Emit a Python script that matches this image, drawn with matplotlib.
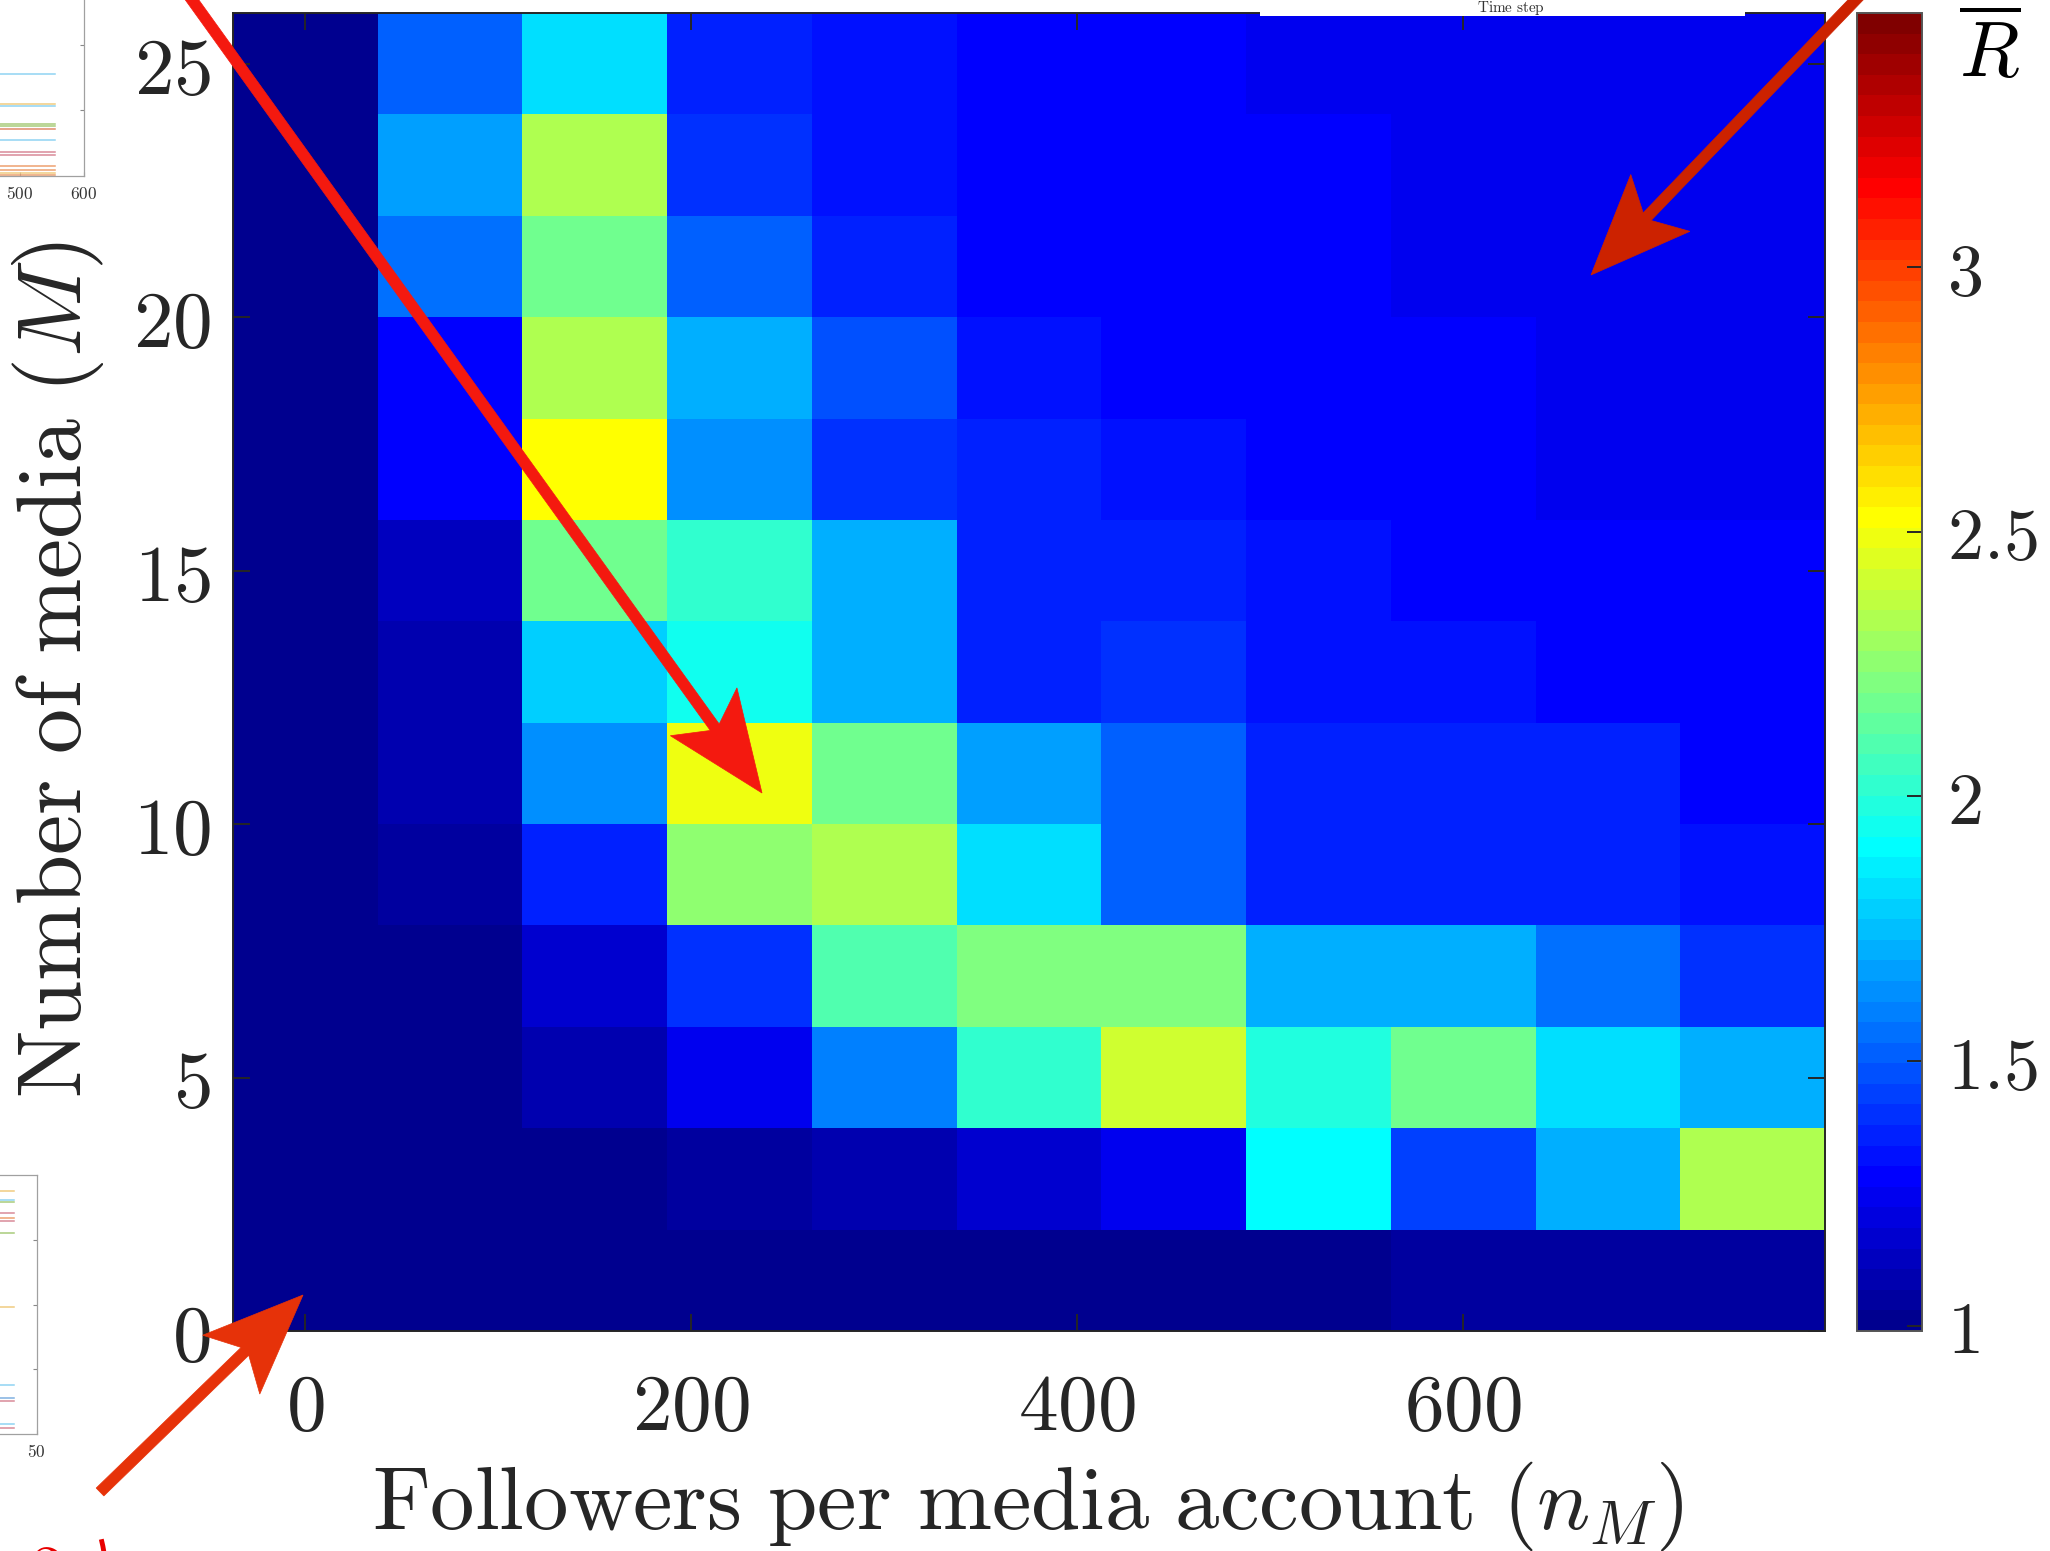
import numpy as np
import matplotlib
matplotlib.use("Agg")
import matplotlib.pyplot as plt
from matplotlib.colors import ListedColormap, Normalize
from matplotlib.patches import Polygon, Rectangle, Arc
from matplotlib.ticker import FuncFormatter, FixedLocator

plt.rcParams["mathtext.fontset"] = "cm"
plt.rcParams["font.family"] = ["DejaVu Serif"]

# ---------------------------------------------------------------- data
followers = [0, 75, 150, 225, 300, 375, 450, 525, 600, 675, 750]   # n_M
media = [1, 3, 5, 7, 9, 11, 13, 15, 17, 19, 21, 23, 25]             # M

# mean R for each number of media M, across followers per account
R_M01 = [1.01, 1.01, 1.01, 1.01, 1.01, 1.01, 1.01, 1.01, 1.05, 1.05, 1.05]
R_M03 = [1.01, 1.01, 1.01, 1.05, 1.09, 1.17, 1.24, 1.90, 1.44, 1.71, 2.33]
R_M05 = [1.01, 1.01, 1.09, 1.24, 1.59, 2.02, 2.41, 1.98, 2.18, 1.83, 1.71]
R_M07 = [1.01, 1.01, 1.17, 1.40, 2.10, 2.22, 2.22, 1.71, 1.71, 1.55, 1.40]
R_M09 = [1.01, 1.05, 1.36, 2.26, 2.33, 1.83, 1.52, 1.36, 1.36, 1.36, 1.32]
R_M11 = [1.01, 1.09, 1.63, 2.49, 2.18, 1.67, 1.52, 1.36, 1.36, 1.36, 1.28]
R_M13 = [1.01, 1.09, 1.79, 1.94, 1.71, 1.36, 1.40, 1.32, 1.32, 1.28, 1.28]
R_M15 = [1.01, 1.13, 2.18, 2.02, 1.71, 1.36, 1.36, 1.32, 1.28, 1.28, 1.28]
R_M17 = [1.01, 1.28, 2.53, 1.63, 1.40, 1.36, 1.32, 1.28, 1.28, 1.24, 1.24]
R_M19 = [1.01, 1.28, 2.33, 1.71, 1.48, 1.32, 1.28, 1.28, 1.28, 1.24, 1.24]
R_M21 = [1.01, 1.55, 2.18, 1.52, 1.36, 1.28, 1.28, 1.28, 1.24, 1.24, 1.24]
R_M23 = [1.01, 1.67, 2.33, 1.40, 1.32, 1.28, 1.28, 1.28, 1.24, 1.24, 1.24]
R_M25 = [1.01, 1.52, 1.83, 1.36, 1.32, 1.28, 1.28, 1.24, 1.24, 1.24, 1.24]

R_MIN, R_MAX = 0.99, 3.48
x_ticks = [0, 200, 400, 600]
y_ticks = [0, 5, 10, 15, 20, 25]
cbar_ticks = [1, 1.5, 2, 2.5, 3]

# neighbouring panels partly visible at the left edge
upper_panel_levels = [0.311, 0.220, 0.214, 0.159, 0.153, 0.144, 0.110,
                      0.073, 0.064, 0.031, 0.018, 0.009, 0.003]
upper_panel_colors = ["#8fd3f3", "#f0cc80", "#8fd3f3", "#a8cc7a", "#a8cc7a",
                      "#e08a6a", "#8fd3f3", "#d98a99", "#d98a99", "#eea070",
                      "#eea070", "#f0cc80", "#eea070"]
lower_panel_levels = [4.0, 3.75, 3.62, 3.58, 3.41, 3.34, 3.29, 3.11, 1.96,
                      0.75, 0.55, 0.51, 0.15, 0.09]
lower_panel_colors = ["#d98a99", "#f0cc80", "#8fd3f3", "#a8cc7a", "#d98a99",
                      "#eea070", "#d98a99", "#a8cc7a", "#f0cc80", "#8fd3f3",
                      "#80b0e0", "#d98a99", "#8fd3f3", "#d98a99"]


def matlab_jet(m=64):
    n = int(np.ceil(m / 4))
    u = np.r_[np.arange(1, n + 1) / n, np.ones(n - 1), np.arange(n, 0, -1) / n]
    g = int(np.ceil(n / 2)) - (1 if m % 4 == 1 else 0) + np.arange(1, len(u) + 1)
    r = g + n
    b = g - n
    cm = np.zeros((m, 3))
    for idx, ch in ((r, 0), (g, 1), (b, 2)):
        ok = (idx >= 1) & (idx <= m)
        cm[idx[ok] - 1, ch] = u[ok]
    return ListedColormap(cm)


W, H = 2050, 1551
INK = "#262626"


def fig_rect(x0, y0, x1, y1):
    """Pixel box (origin top-left) -> figure fraction rect."""
    return [x0 / W, 1 - y1 / H, (x1 - x0) / W, (y1 - y0) / H]


def fpt(x, y):
    return (x / W, 1 - y / H)


def mfmt(v, _pos=None):
    return f"${v:g}$"


fig = plt.figure(figsize=(W / 100, H / 100), dpi=100)

# ---------------------------------------------------------------- heatmap
Z = np.array([R_M01, R_M03, R_M05, R_M07, R_M09, R_M11, R_M13,
              R_M15, R_M17, R_M19, R_M21, R_M23, R_M25])
cmap = matlab_jet(64)
norm = Normalize(vmin=R_MIN, vmax=R_MAX)

ax = fig.add_axes(fig_rect(233, 13, 1825, 1331))
mesh = ax.pcolormesh(followers, media, Z, cmap=cmap, norm=norm,
                     shading="nearest", antialiased=False)
dx = followers[1] - followers[0]
dy = media[1] - media[0]
ax.set_xlim(followers[0] - dx / 2, followers[-1] + dx / 2)
ax.set_ylim(media[0] - dy / 2, media[-1] + dy / 2)
ax.xaxis.set_major_locator(FixedLocator(x_ticks))
ax.yaxis.set_major_locator(FixedLocator(y_ticks))
ax.xaxis.set_major_formatter(FuncFormatter(mfmt))
ax.yaxis.set_major_formatter(FuncFormatter(mfmt))
ax.tick_params(axis="both", direction="in", length=12, width=1.4,
               color=INK, labelcolor=INK, labelsize=57,
               top=True, right=True)
ax.tick_params(axis="x", pad=28)
ax.tick_params(axis="y", pad=16)
for sp in ax.spines.values():
    sp.set_color(INK)
    sp.set_linewidth(1.4)

fig.text(*fpt(1028, 1506), r"$\mathrm{Followers\ per\ media\ account}\ (n_M)$",
         ha="center", va="center", fontsize=64, color=INK)
fig.text(*fpt(58, 670), r"$\mathrm{Number\ of\ media}\ (M)$",
         ha="center", va="center", rotation=90, fontsize=65, color=INK)

# ---------------------------------------------------------------- colorbar
cax = fig.add_axes(fig_rect(1857, 13, 1922, 1331))
cb = fig.colorbar(mesh, cax=cax, ticks=cbar_ticks)
cb.outline.set_edgecolor("#555555")
cb.outline.set_linewidth(1.4)
cax.yaxis.set_major_formatter(FuncFormatter(mfmt))
cax.tick_params(direction="in", length=11, width=1.4, color=INK,
                labelcolor=INK, labelsize=52, pad=18)
fig.text(*fpt(1990, 15), r"$\overline{R}$", ha="center", va="top",
         fontsize=56, color="black")

# ---------------------------------------------------------------- side panels
up = fig.add_axes(fig_rect(-297.5, -151.5, 83.5, 176))
for lvl, c in zip(upper_panel_levels, upper_panel_colors):
    up.plot([0, 555], [lvl, lvl], color=c, lw=1.1)
up.set_xlim(0, 600)
up.set_ylim(0, 1)
up.set_xticks([500, 600])
up.set_yticks([0.2, 0.4])
up.xaxis.set_major_formatter(FuncFormatter(mfmt))
up.tick_params(direction="in", length=3, width=0.8, color="#888888",
               labelcolor="#333333", labelsize=12.5, pad=7,
               right=True, left=False, labelleft=False)
for sp in up.spines.values():
    sp.set_color("#a0a0a0")
    sp.set_linewidth(0.9)

lo = fig.add_axes(fig_rect(-300, 1175, 36.5, 1434))
for lvl, c in zip(lower_panel_levels, lower_panel_colors):
    lo.plot([0, 46.6], [lvl, lvl], color=c, lw=1.1)
lo.set_xlim(0, 50)
lo.set_ylim(0, 4)
lo.set_xticks([50])
lo.set_yticks([1, 2, 3])
lo.xaxis.set_major_formatter(FuncFormatter(mfmt))
lo.tick_params(direction="in", length=3, width=0.8, color="#888888",
               labelcolor="#333333", labelsize=12.5, pad=7,
               right=True, left=False, labelleft=False)
for sp in lo.spines.values():
    sp.set_color("#a0a0a0")
    sp.set_linewidth(0.9)

# strip of the panel above, with its axis caption
fig.add_artist(Rectangle(fpt(1260, 16), 485 / W, 16 / H, transform=fig.transFigure,
                         facecolor="white", edgecolor="none", zorder=5))
fig.text(*fpt(1511, 12), r"$\mathrm{Time\ step}$", ha="center", va="baseline",
         fontsize=11, color="#333333", zorder=6)


# ---------------------------------------------------------------- arrows
def arrow(tail, tip, color, width=11, head_len=100, head_half=41, notch=78):
    tail = np.asarray(tail, float)
    tip = np.asarray(tip, float)
    u = (tip - tail) / np.hypot(*(tip - tail))
    p = np.array([-u[1], u[0]])
    base = tip - head_len * u
    nk = tip - notch * u
    head = [tip, base + head_half * p, nk, base - head_half * p]
    shaft_end = nk + 6 * u
    shaft = [tail + width / 2 * p, shaft_end + width / 2 * p,
             shaft_end - width / 2 * p, tail - width / 2 * p]
    for pts in (shaft, head):
        fig.add_artist(Polygon([fpt(*q) for q in pts], closed=True,
                               transform=fig.transFigure, facecolor=color,
                               edgecolor=color, lw=0.5, zorder=10))


arrow((149, -60), (762, 793), "#f4190f")
arrow((1868, -13), (1591, 275), "#cc2200")
arrow((100, 1492), (303, 1295), "#e63209")

# circled panel tag, cut by the lower edge
fig.add_artist(Arc(fpt(50, 1599), 116 / W, 256 / H, theta1=132, theta2=417,
                   transform=fig.transFigure, color="#e80000", lw=3.5, zorder=10))
fig.text(*fpt(46, 1541), r"$2$", ha="center", va="top", fontsize=50,
         color="#e80000", zorder=10)

fig.savefig("out.png", dpi=100)
